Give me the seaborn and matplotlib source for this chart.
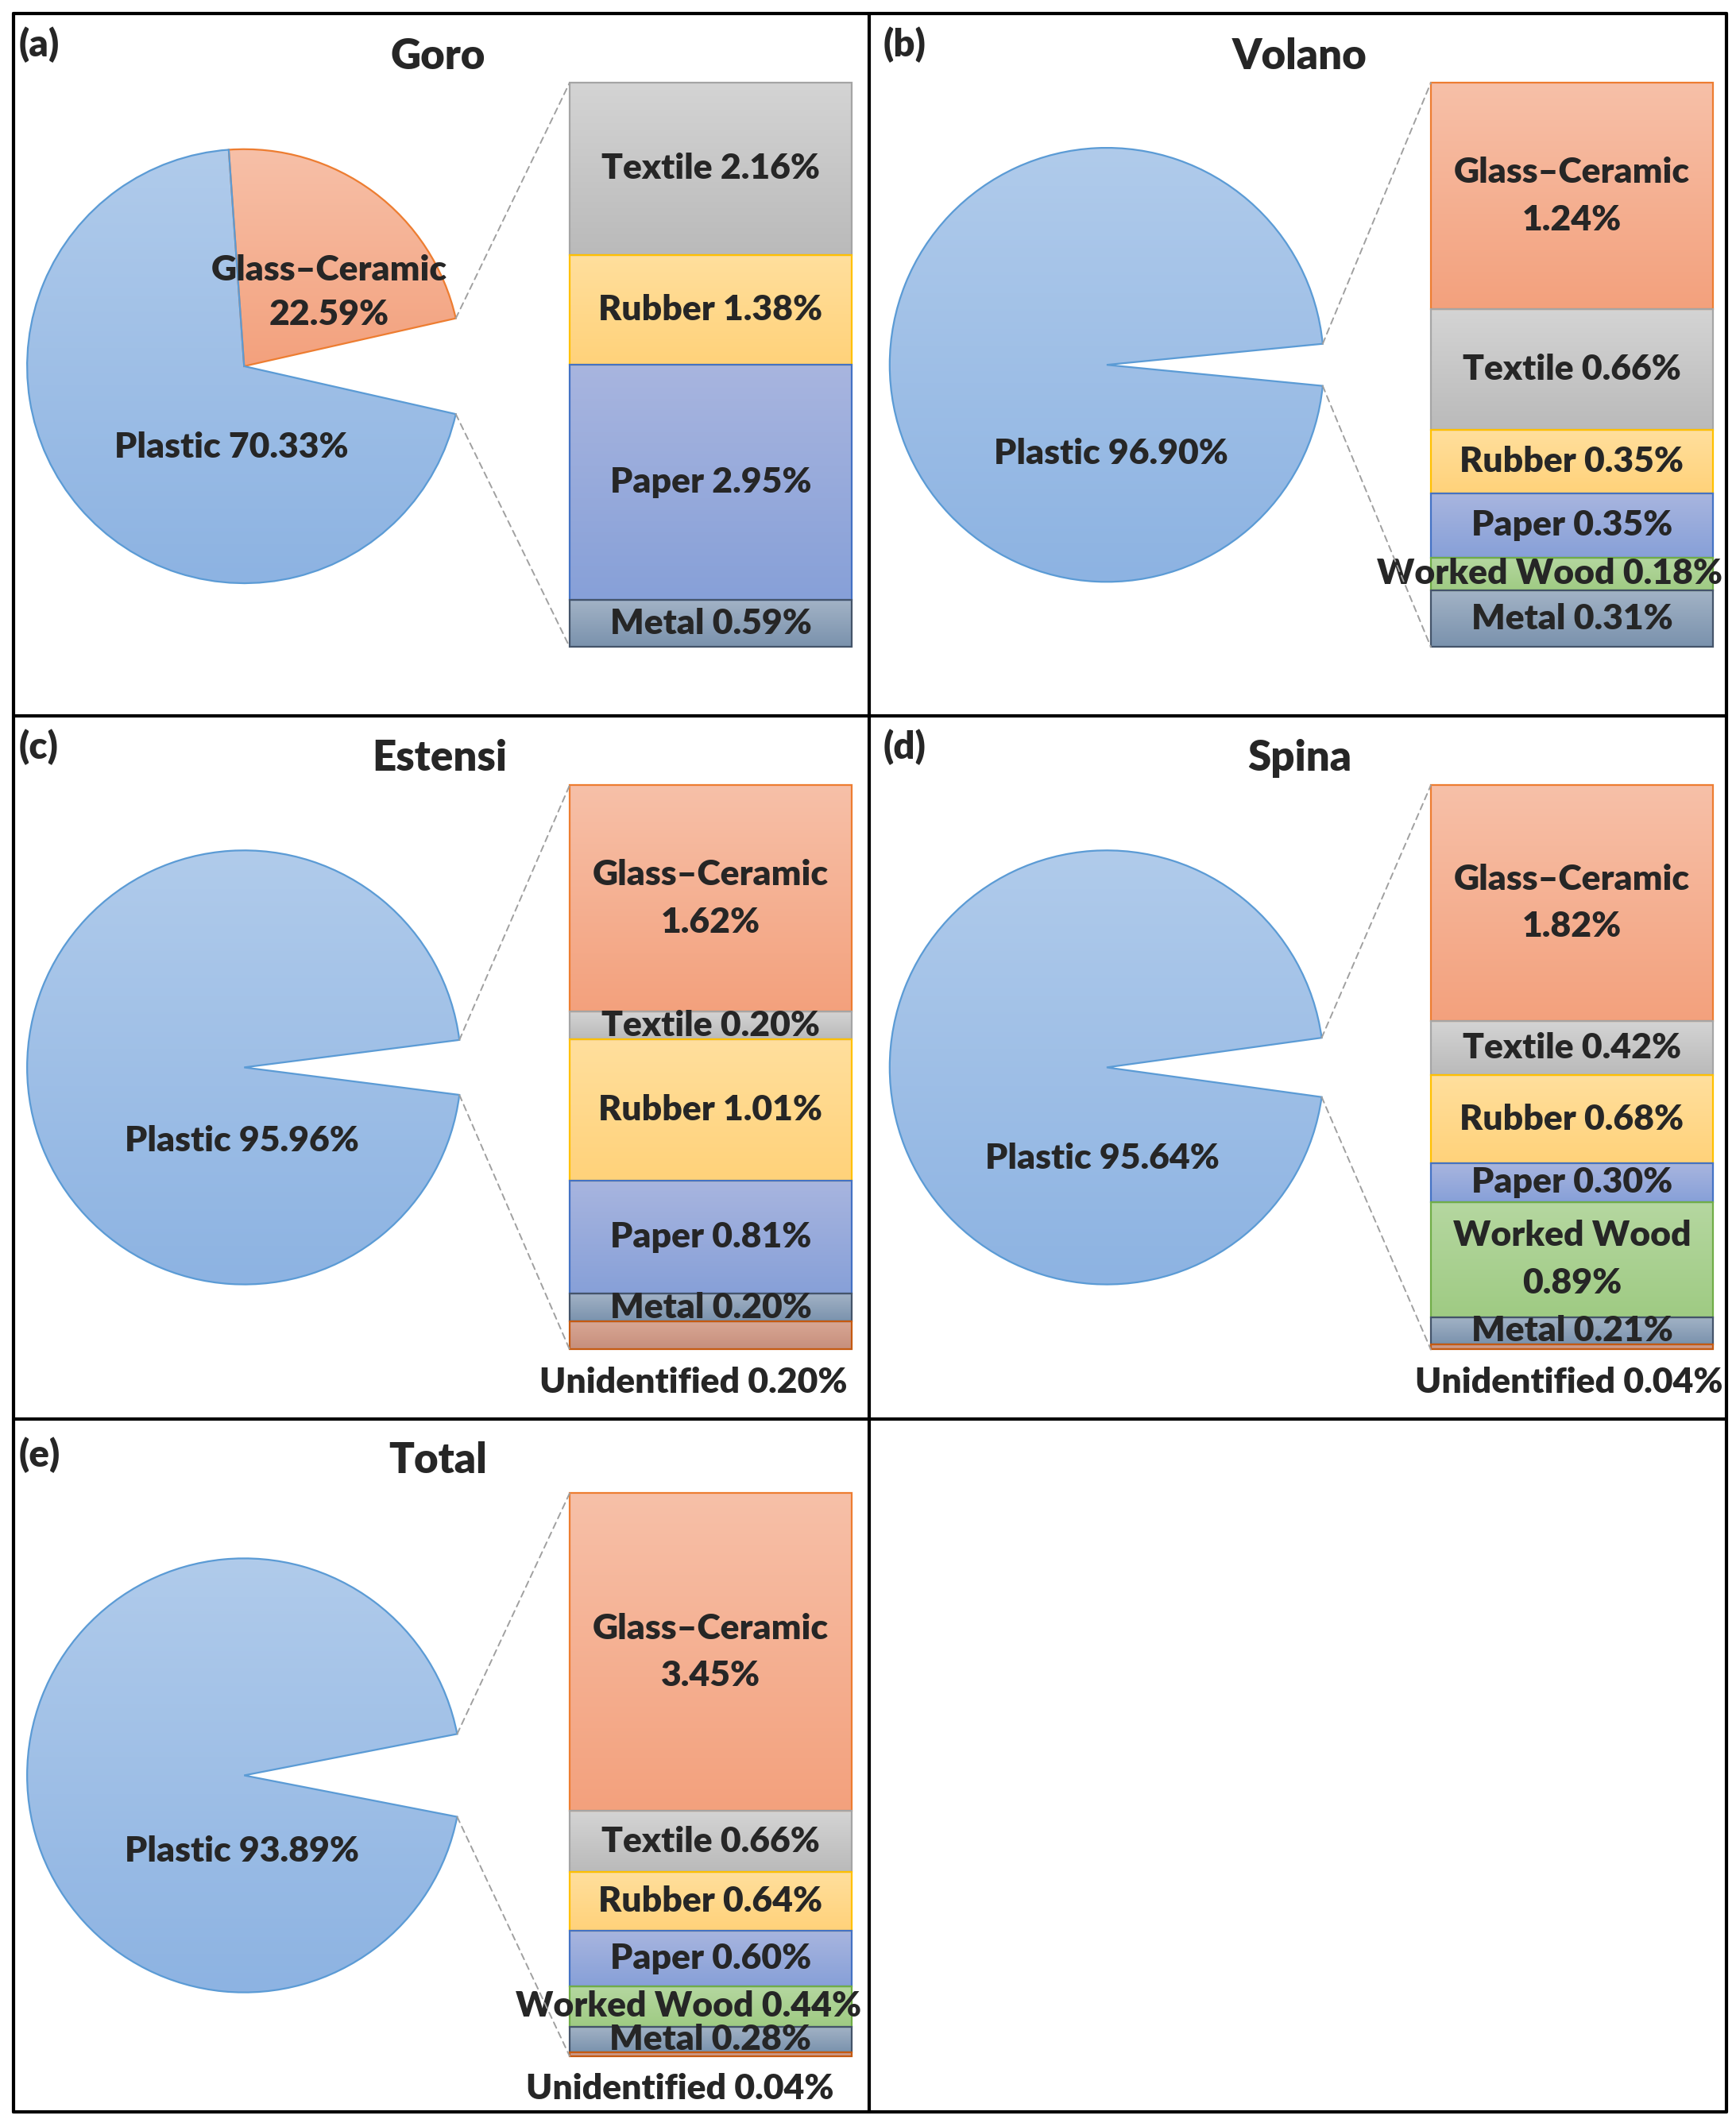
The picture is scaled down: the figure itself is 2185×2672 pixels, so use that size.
import numpy as np
import matplotlib
matplotlib.use('Agg')
import matplotlib.pyplot as plt
import seaborn as sns
from matplotlib.colors import LinearSegmentedColormap
from matplotlib.patches import ConnectionPatch
from matplotlib.lines import Line2D

sns.set_theme(style='white')
plt.rcParams['font.family'] = ['Lato', 'DejaVu Sans']

# ---- data (percent of items) ----
titles = ['Goro', 'Volano', 'Estensi', 'Spina', 'Total']
tags = ['(a)', '(b)', '(c)', '(d)', '(e)']

goro_pie_cats = ['Glass–Ceramic', 'Plastic']
goro_pie_vals = [22.59, 70.33]
volano_pie_cats = ['Plastic']
volano_pie_vals = [96.90]
estensi_pie_cats = ['Plastic']
estensi_pie_vals = [95.96]
spina_pie_cats = ['Plastic']
spina_pie_vals = [95.64]
total_pie_cats = ['Plastic']
total_pie_vals = [93.89]

goro_bar_cats = ['Textile', 'Rubber', 'Paper', 'Metal']
goro_bar_vals = [2.16, 1.38, 2.95, 0.59]
volano_bar_cats = ['Glass–Ceramic', 'Textile', 'Rubber', 'Paper', 'Worked Wood', 'Metal']
volano_bar_vals = [1.24, 0.66, 0.35, 0.35, 0.18, 0.31]
estensi_bar_cats = ['Glass–Ceramic', 'Textile', 'Rubber', 'Paper', 'Metal', 'Unidentified']
estensi_bar_vals = [1.62, 0.20, 1.01, 0.81, 0.20, 0.20]
spina_bar_cats = ['Glass–Ceramic', 'Textile', 'Rubber', 'Paper', 'Worked Wood', 'Metal', 'Unidentified']
spina_bar_vals = [1.82, 0.42, 0.68, 0.30, 0.89, 0.21, 0.04]
total_bar_cats = ['Glass–Ceramic', 'Textile', 'Rubber', 'Paper', 'Worked Wood', 'Metal', 'Unidentified']
total_bar_vals = [3.45, 0.66, 0.64, 0.60, 0.44, 0.28, 0.04]

pie_cats = [goro_pie_cats, volano_pie_cats, estensi_pie_cats, spina_pie_cats, total_pie_cats]
pie_vals = [goro_pie_vals, volano_pie_vals, estensi_pie_vals, spina_pie_vals, total_pie_vals]
bar_cats = [goro_bar_cats, volano_bar_cats, estensi_bar_cats, spina_bar_cats, total_bar_cats]
bar_vals = [goro_bar_vals, volano_bar_vals, estensi_bar_vals, spina_bar_vals, total_bar_vals]

# (gradient top, gradient bottom, edge)
colors = {
    'Plastic': ('#b0cbeb', '#8db3e2', '#5b9bd5'),
    'Glass–Ceramic': ('#f7c0a8', '#f3a17d', '#ed7d31'),
    'Textile': ('#d4d4d4', '#bababa', '#a5a5a5'),
    'Rubber': ('#ffdf9d', '#ffd27a', '#ffc000'),
    'Paper': ('#a8b5df', '#87a0d8', '#4472c4'),
    'Worked Wood': ('#b5d7a0', '#9fcb83', '#70ad47'),
    'Metal': ('#a3b3c6', '#7a92ad', '#44546a'),
    'Unidentified': ('#d9a795', '#c68f7c', '#c55a11'),
}

# ---- layout in reference units (1280 x 1565.3 canvas) ----
CW, CH = 1280.0, 1565.3
pie_centers = [(180, 270), (816, 269), (180, 787), (816, 787), (180, 1309)]
pie_r = 160
bar_boxes = [(420, 61, 628, 477), (1055, 61, 1263, 477), (420, 579, 628, 995),
             (1055, 579, 1263, 995), (420, 1101, 628, 1516)]
title_pos = [(323, 42), (958, 42), (324, 559), (958, 559), (323, 1077)]
tag_pos = [(14, 33), (651, 33), (14, 551), (651, 551), (14, 1073)]
plastic_lab = [(-0.06, -0.375), (0.02, -0.41), (-0.01, -0.34), (-0.02, -0.42), (-0.01, -0.35)]
glass_lab = (0.39, 0.34)
unid_x = [None, None, 0.44, 0.49, 0.39]

W = 'heavy'


def fbox(x0, y0, x1, y1):
    return [x0 / CW, 1 - y1 / CH, (x1 - x0) / CW, (y1 - y0) / CH]


def gradient(ax, patch, top, bot, extent):
    cmap = LinearSegmentedColormap.from_list('g', [top, bot])
    im = ax.imshow(np.linspace(0, 1, 128).reshape(-1, 1), cmap=cmap, extent=extent,
                   aspect='auto', origin='upper', interpolation='bilinear',
                   zorder=patch.get_zorder() - 0.1)
    im.set_clip_path(patch)
    patch.set_facecolor('none')


fig = plt.figure(figsize=(21.85, 26.72), dpi=100)

LAB = 32
for i in range(5):
    cx, cy = pie_centers[i]
    other = sum(bar_vals[i])
    half = other * 3.6 / 2

    # pie of the main categories, the "other" slice left blank
    pax = fig.add_axes(fbox(cx - pie_r, cy - pie_r, cx + pie_r, cy + pie_r))
    vals = [other] + pie_vals[i]
    wedges, _ = pax.pie(vals, startangle=-half, counterclock=True, radius=1,
                        colors=['none'] + [colors[c][0] for c in pie_cats[i]],
                        wedgeprops=dict(linewidth=1.6))
    wedges[0].set_edgecolor('none')
    for w, c in zip(wedges[1:], pie_cats[i]):
        w.set_edgecolor(colors[c][2])
        w.set_clip_on(False)
        bb = w.get_path().get_extents()
        gradient(pax, w, colors[c][0], colors[c][1], (bb.x0, bb.x1, bb.y0, bb.y1))
    pax.set_xlim(-1, 1)
    pax.set_ylim(-1, 1)
    pax.set_aspect('equal')
    pax.axis('off')

    for c, v in zip(pie_cats[i], pie_vals[i]):
        if c == 'Plastic':
            px, py = plastic_lab[i]
            pax.text(px, py, f'{c} {v:.2f}%', ha='center', va='center',
                     fontsize=LAB, fontweight=W)
        else:
            px, py = glass_lab
            pax.text(px, py, f'{c}\n{v:.2f}%', ha='center', va='center',
                     fontsize=LAB, fontweight=W, linespacing=1.5)

    # stacked bar of the remaining categories
    x0, y0, x1, y1 = bar_boxes[i]
    bax = fig.add_axes(fbox(x0, y0, x1, y1))
    cats, bv = bar_cats[i], bar_vals[i]
    top = other
    for c, v in zip(cats, bv):
        bottom = top - v
        rect = bax.bar(0, v, bottom=bottom, width=1, color=colors[c][0],
                       edgecolor=colors[c][2], linewidth=1.6, zorder=2)[0]
        rect.set_clip_on(False)
        gradient(bax, rect, colors[c][0], colors[c][1], (-0.5, 0.5, bottom, top))
        if c == 'Unidentified':
            bax.text(unid_x[i], -0.058, f'{c} {v:.2f}%', transform=bax.transAxes,
                     ha='center', va='center', fontsize=LAB, fontweight=W,
                     clip_on=False)
        else:
            lab = f'{c} {v:.2f}%'
            xt = 0
            if len(lab) > 15 and v / other > 0.15:
                lab = f'{c}\n{v:.2f}%'
            elif len(lab) > 15:
                xt = -0.08
            bax.text(xt, bottom + v / 2, lab, ha='center', va='center', fontsize=LAB,
                     fontweight=W, linespacing=1.6, zorder=5, clip_on=False)
        top = bottom
    bax.set_xlim(-0.5, 0.5)
    bax.set_ylim(0, other)
    bax.axis('off')

    # dashed leader lines from the blank slice to the bar
    th = np.deg2rad(half)
    for sgn, corner in [(1, (0, 1)), (-1, (0, 0))]:
        con = ConnectionPatch(xyA=(np.cos(th), sgn * np.sin(th)), coordsA=pax.transData,
                              xyB=corner, coordsB=bax.transAxes,
                              color='#a0a0a0', lw=1.4, linestyle=(0, (4, 3)))
        fig.add_artist(con)

    tx, ty = title_pos[i]
    fig.text(tx / CW, 1 - ty / CH, titles[i], ha='center', va='center',
             fontsize=38, fontweight=W)
    gx, gy = tag_pos[i]
    fig.text(gx / CW, 1 - gy / CH, tags[i], ha='left', va='center',
             fontsize=34, fontweight=W)

# panel frame
def fline(xa, ya, xb, yb):
    fig.add_artist(Line2D([xa / CW, xb / CW], [1 - ya / CH, 1 - yb / CH],
                          transform=fig.transFigure, color='black', lw=3))

L, R, T, B = 10, 1273, 10, 1557
fline(L, T, R, T)
fline(L, B, R, B)
fline(L, T, L, B)
fline(R, T, R, B)
fline(641, T, 641, B)
fline(L, 528, R, 528)
fline(L, 1046, R, 1046)

fig.savefig('out.png', dpi=100, facecolor='white')
